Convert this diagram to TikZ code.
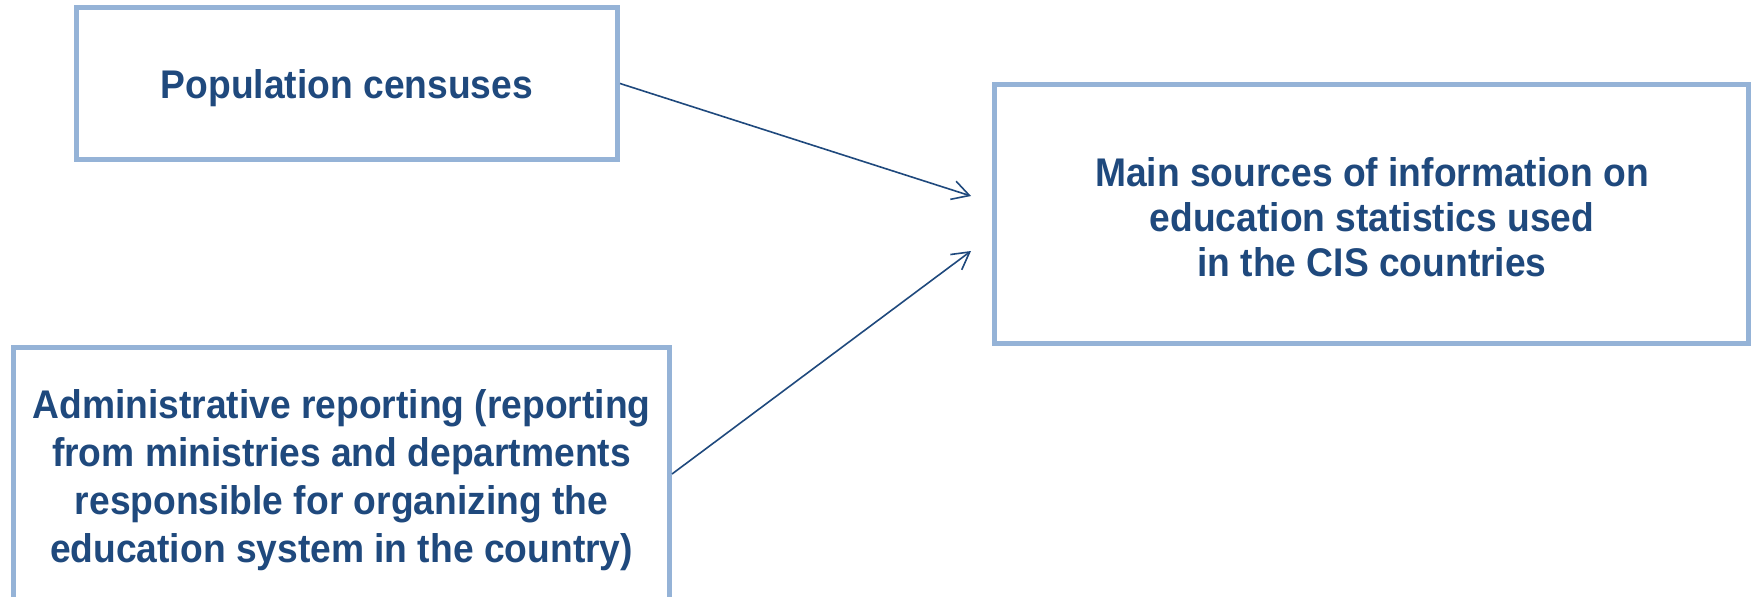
\documentclass[tikz,border=0pt]{standalone}
\usepackage{fontspec}
\setmainfont[FakeStretch=0.93]{Liberation Sans}
\usetikzlibrary{arrows.meta}
\definecolor{boxline}{HTML}{95B3D7}
\definecolor{ink}{HTML}{1F497D}
\tikzset{
  srcbox/.style={draw=boxline, line width=5pt, fill=white, rectangle, inner sep=0pt},
  srctext/.style={align=center, inner sep=0pt, text=ink, font=\bfseries\fontsize{40}{48}\selectfont},
  link/.style={draw=ink, line width=1.6pt, -{Straight Barb[length=17pt,width=19pt,line width=1.6pt]}}
}
\begin{document}
\begin{tikzpicture}[x=1pt,y=-1pt]
\useasboundingbox (0,0) rectangle (1754,597);
\fill[white] (0,0) rectangle (1754,597);
\node[srcbox, minimum width=541pt, minimum height=152pt] (pop) at (347,83.5) {};
\node[srcbox, minimum width=754pt, minimum height=259pt] (main) at (1371.5,214) {};
\node[srcbox, minimum width=656pt, minimum height=253pt] (adm) at (341.5,474) {};
\node[srctext] (popt) at (347,88) {Population censuses};
\node[srctext, font=\bfseries\fontsize{40}{45}\selectfont] (maint) at (1372,217)
  {Main sources of information on\\education statistics used\\in the CIS countries};
\node[srctext] (admt) at (341.5,480)
  {Administrative reporting (reporting\\from ministries and departments\\responsible for organizing the\\education system in the country)};
\coordinate (t1) at (971,196);
\coordinate (t2) at (971,251);
\draw[link] (pop.east) -- (t1);
\draw[link] (adm.east) -- (t2);
\end{tikzpicture}
\end{document}
